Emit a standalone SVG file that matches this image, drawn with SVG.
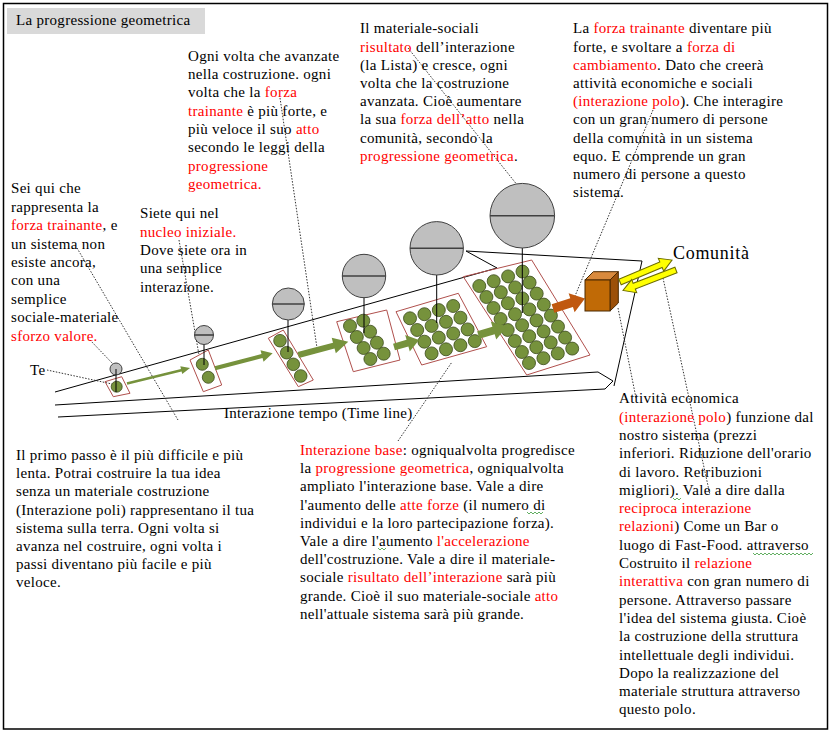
<svg xmlns="http://www.w3.org/2000/svg" width="832" height="734" viewBox="0 0 832 734">
<style>
.t{font-family:"Liberation Serif","Times New Roman",serif;font-size:15px;letter-spacing:0.3px;fill:#000}
.r{fill:#ff0000}
.ld{fill:none;stroke:#333;stroke-width:1;stroke-dasharray:1.5,1.5}
.ln{fill:none;stroke:#000;stroke-width:1}
.cir{fill:#bfbfbf;stroke:#404040;stroke-width:1}
.bar{stroke:#404040;stroke-width:1.6}
.stem{stroke:#000;stroke-width:1}
.box{fill:none;stroke:#b0504d;stroke-width:1}
.dot{fill:#76923c;stroke:#3b4a1c;stroke-width:0.8}
.ga{fill:#76923c}
.ya{fill:#ffff00;stroke:#6b6b00;stroke-width:1}
.sq{fill:none;stroke:#3a9a3a;stroke-width:0.8}
</style>
<rect x="3.5" y="3.5" width="824" height="725.5" fill="#fff" stroke="#000" stroke-width="1.5"/>
<g id="title">
<rect x="7" y="8" width="198" height="26" fill="#d9d9d9"/>
<text class="t" x="16" y="25">La progressione geometrica</text>
</g>

<g id="structure">
<polyline class="ln" points="55,392 497,268 466,251 642,261 614,386"/>
<polyline class="ln" points="55,405 598,372 613,381 605,389 58,417"/>
</g>

<g id="connectors">
<line class="ld" x1="77" y1="248" x2="178" y2="420"/>
<line class="ld" x1="90" y1="340" x2="113" y2="364"/>
<line class="ld" x1="47" y1="370" x2="112" y2="384"/>
<line class="ld" x1="179" y1="240" x2="199" y2="355"/>
<line class="ld" x1="280" y1="98" x2="317" y2="348"/>
<line class="ld" x1="408" y1="48" x2="518" y2="186"/>
<line class="ld" x1="653" y1="110" x2="575" y2="296"/>
<line class="ld" x1="398" y1="441" x2="452" y2="362"/>
<line class="ld" x1="618" y1="308" x2="636" y2="398"/>
<line class="ld" x1="663" y1="278" x2="710" y2="495"/>
</g>

<g id="group1">
<polygon class="box" points="105,381.7 121.7,376.7 130,393.3 113.3,396.7"/>
<circle class="dot" cx="116.7" cy="386.7" r="5.5"/>
<line class="stem" x1="116" y1="363" x2="116" y2="392"/>
<circle class="cir" cx="116" cy="369" r="6"/>
<line class="stem" x1="116" y1="369" x2="116" y2="375"/>
</g>
<g id="group2">
<polygon class="box" points="190,360 208.3,350 221.7,385 203.3,391.7"/>
<circle class="dot" cx="202.3" cy="364.3" r="6"/>
<circle class="dot" cx="208.3" cy="377.3" r="6"/>
<line class="stem" x1="204" y1="335" x2="204" y2="365"/>
<circle class="cir" cx="204" cy="335" r="9.5"/>
<line class="bar" x1="194.5" y1="335" x2="213.5" y2="335"/>
</g>
<g id="group3">
<polygon class="box" points="268.3,338.3 283.3,330 313.3,380 298.3,386.7"/>
<circle class="dot" cx="280" cy="340.7" r="6.3"/>
<circle class="dot" cx="286.7" cy="352.7" r="6.3"/>
<circle class="dot" cx="293.3" cy="364.3" r="6.3"/>
<circle class="dot" cx="300.7" cy="376" r="6.3"/>
<line class="stem" x1="288" y1="318" x2="288" y2="352"/>
<circle class="cir" cx="288.3" cy="304" r="16"/>
<line class="bar" x1="272.3" y1="304" x2="304.3" y2="304" stroke-width="2.2"/>
</g>
<g id="group4">
<polygon class="box" points="336.7,321.7 386.7,310 400,360 353.3,371.7"/>
<circle class="dot" cx="350" cy="326" r="6.5"/>
<circle class="dot" cx="363.3" cy="320.7" r="6.5"/>
<circle class="dot" cx="356.8" cy="337" r="6.5"/>
<circle class="dot" cx="370.1" cy="331.7" r="6.5"/>
<circle class="dot" cx="363.6" cy="348" r="6.5"/>
<circle class="dot" cx="376.9" cy="342.7" r="6.5"/>
<circle class="dot" cx="370.4" cy="359" r="6.5"/>
<circle class="dot" cx="383.7" cy="353.7" r="6.5"/>
<line class="stem" x1="364" y1="297" x2="364" y2="333"/>
<circle class="cir" cx="364" cy="276" r="21.7"/>
<line class="bar" x1="342.3" y1="276" x2="385.7" y2="276" stroke-width="2.2"/>
</g>
<g id="group5">
<polygon class="box" points="396,311.7 458.3,293.3 486.7,346.7 421.7,365"/>
<g transform="translate(410,318.3)">
<circle class="dot" cx="0" cy="0" r="6.5"/><circle class="dot" cx="14.4" cy="-4.1" r="6.5"/><circle class="dot" cx="28.8" cy="-8.2" r="6.5"/><circle class="dot" cx="43.2" cy="-12.3" r="6.5"/>
<circle class="dot" cx="7.2" cy="11.7" r="6.5"/><circle class="dot" cx="21.6" cy="7.6" r="6.5"/><circle class="dot" cx="36" cy="3.5" r="6.5"/><circle class="dot" cx="50.4" cy="-0.6" r="6.5"/>
<circle class="dot" cx="14.4" cy="23.4" r="6.5"/><circle class="dot" cx="28.8" cy="19.3" r="6.5"/><circle class="dot" cx="43.2" cy="15.2" r="6.5"/><circle class="dot" cx="57.6" cy="11.1" r="6.5"/>
<circle class="dot" cx="21.6" cy="35.1" r="6.5"/><circle class="dot" cx="36" cy="31" r="6.5"/><circle class="dot" cx="50.4" cy="26.9" r="6.5"/><circle class="dot" cx="64.8" cy="22.8" r="6.5"/>
</g>
<line class="stem" x1="436.7" y1="275" x2="436.7" y2="323"/>
<circle class="cir" cx="436.7" cy="248.3" r="26.7"/>
<line class="bar" x1="410" y1="248.3" x2="463.4" y2="248.3" stroke="#000"/>
</g>
<g id="group6">
<polygon class="box" points="463.3,276.7 531.7,260 590,355 526.7,375"/>
<g transform="translate(479.3,286)">
<circle class="dot" cx="0" cy="0" r="6.5"/><circle class="dot" cx="14.4" cy="-4.8" r="6.5"/><circle class="dot" cx="28.8" cy="-9.6" r="6.5"/><circle class="dot" cx="43.2" cy="-14.4" r="6.5"/>
<circle class="dot" cx="7.1" cy="11" r="6.5"/><circle class="dot" cx="21.5" cy="6.2" r="6.5"/><circle class="dot" cx="35.9" cy="1.4" r="6.5"/><circle class="dot" cx="50.3" cy="-3.4" r="6.5"/>
<circle class="dot" cx="14.2" cy="22" r="6.5"/><circle class="dot" cx="28.6" cy="17.2" r="6.5"/><circle class="dot" cx="43" cy="12.4" r="6.5"/><circle class="dot" cx="57.4" cy="7.6" r="6.5"/>
<circle class="dot" cx="21.3" cy="33" r="6.5"/><circle class="dot" cx="35.7" cy="28.2" r="6.5"/><circle class="dot" cx="50.1" cy="23.4" r="6.5"/><circle class="dot" cx="64.5" cy="18.6" r="6.5"/>
<circle class="dot" cx="28.4" cy="44" r="6.5"/><circle class="dot" cx="42.8" cy="39.2" r="6.5"/><circle class="dot" cx="57.2" cy="34.4" r="6.5"/><circle class="dot" cx="71.6" cy="29.6" r="6.5"/>
<circle class="dot" cx="35.5" cy="55" r="6.5"/><circle class="dot" cx="49.9" cy="50.2" r="6.5"/><circle class="dot" cx="64.3" cy="45.4" r="6.5"/><circle class="dot" cx="78.7" cy="40.6" r="6.5"/>
<circle class="dot" cx="42.6" cy="66" r="6.5"/><circle class="dot" cx="57" cy="61.2" r="6.5"/><circle class="dot" cx="71.4" cy="56.4" r="6.5"/><circle class="dot" cx="85.8" cy="51.6" r="6.5"/>
<circle class="dot" cx="49.7" cy="77" r="6.5"/><circle class="dot" cx="64.1" cy="72.2" r="6.5"/><circle class="dot" cx="78.5" cy="67.4" r="6.5"/><circle class="dot" cx="92.9" cy="62.6" r="6.5"/>
</g>
<line class="stem" x1="522.3" y1="248" x2="522.3" y2="313"/>
<circle class="cir" cx="522.3" cy="215.7" r="32.3"/>
<line class="bar" x1="490" y1="215.7" x2="554.6" y2="215.7" stroke="#595959" stroke-width="2"/>
</g>

<g id="flow-arrows">
<path class="ga" transform="translate(127,383.5) rotate(-13.8)" d="M0,-1.25 H55.9 V-4 L64.9,0 L55.9,4 V1.25 H0 Z"/>
<path class="ga" transform="translate(215,368.3) rotate(-14.6)" d="M0,-2 H48.6 V-6 L59.6,0 L48.6,6 V2 H0 Z"/>
<path class="ga" transform="translate(298.3,355) rotate(-14.9)" d="M0,-3 H36.7 V-8 L51.7,0 L36.7,8 V3 H0 Z"/>
<path class="ga" transform="translate(394,347) rotate(-15.6)" d="M0,-3.5 H14 V-8.5 L26,0 L14,8.5 V3.5 H0 Z"/>
<path class="ga" transform="translate(478.3,335) rotate(-16.5)" d="M0,-4 H15.9 V-9.5 L29.9,0 L15.9,9.5 V4 H0 Z"/>
<path fill="#c0580f" transform="translate(553,308.5) rotate(-17.4)" d="M0,-4.5 H19.5 V-10 L33.5,0 L19.5,10 V4.5 H0 Z"/>
</g>

<g id="cube">
<polygon points="585,280 593.3,271.7 618.3,271.7 610,280" fill="#d98a3d" stroke="#4a2800" stroke-width="1"/>
<polygon points="610,280 618.3,271.7 618.3,303 610,311" fill="#9c5008" stroke="#4a2800" stroke-width="1"/>
<rect x="585" y="280" width="25" height="31" fill="#c06a06" stroke="#4a2800" stroke-width="1"/>
</g>

<g id="exchange-arrows">
<path class="ya" transform="translate(620,282) rotate(-22.9)" d="M0,-3 H44.5 V-7 L56.5,0 L44.5,7 V3 H0 Z"/>
<path class="ya" transform="translate(676,270) rotate(158.9)" d="M0,-3 H44.8 V-7 L56.8,0 L44.8,7 V3 H0 Z"/>
</g>

<g id="comunita">
<text x="673" y="259" style="font-family:'Liberation Serif','Times New Roman',serif;font-size:18px;letter-spacing:0.7px;fill:#000">Comunità</text>
</g>

<g id="label-te"><text class="t" x="30" y="375">Te</text></g>
<g id="label-time"><text class="t" x="224" y="418">Interazione tempo (Time line)</text></g>

<g id="note-forza">
<text class="t" x="188" y="60.7">Ogni volta che avanzate</text>
<text class="t" x="188" y="79">nella costruzione. ogni</text>
<text class="t" x="188" y="97.3">volta che la <tspan class="r">forza</tspan></text>
<text class="t" x="188" y="115.6"><tspan class="r">trainante</tspan> è più forte, e</text>
<text class="t" x="188" y="133.9">più veloce il suo <tspan class="r">atto</tspan></text>
<text class="t" x="188" y="152.2">secondo le leggi della</text>
<text class="t r" x="188" y="170.5">progressione</text>
<text class="t r" x="188" y="188.8">geometrica.</text>
</g>

<g id="note-risultato">
<text class="t" x="360" y="33.3">Il materiale-sociali</text>
<text class="t" x="360" y="51.5"><tspan class="r">risultato</tspan> dell’interazione</text>
<text class="t" x="360" y="69.7">(la Lista) e cresce, ogni</text>
<text class="t" x="360" y="87.9">volta che la costruzione</text>
<text class="t" x="360" y="106.1">avanzata. Cioè aumentare</text>
<text class="t" x="360" y="124.3">la sua <tspan class="r">forza dell’atto</tspan> nella</text>
<text class="t" x="360" y="142.5">comunità, secondo la</text>
<text class="t" x="360" y="160.7"><tspan class="r">progressione geometrica</tspan>.</text>
</g>

<g id="note-cambiamento">
<text class="t" x="573" y="33.3">La <tspan class="r">forza trainante</tspan> diventare più</text>
<text class="t" x="573" y="51.5">forte, e svoltare a <tspan class="r">forza di</tspan></text>
<text class="t" x="573" y="69.7"><tspan class="r">cambiamento</tspan>. Dato che creerà</text>
<text class="t" x="573" y="87.9">attività economiche e sociali</text>
<text class="t" x="573" y="106.1"><tspan class="r">(interazione polo</tspan>).  Che interagire</text>
<text class="t" x="573" y="124.3">con un gran numero di persone</text>
<text class="t" x="573" y="142.5">della comunità in un sistema</text>
<text class="t" x="573" y="160.7">equo. E comprende un gran</text>
<text class="t" x="573" y="178.9">numero di persone a questo</text>
<text class="t" x="573" y="197.1">sistema.</text>
</g>

<g id="note-sei-qui">
<text class="t" x="11" y="193.3">Sei qui che</text>
<text class="t" x="11" y="211.7">rappresenta la</text>
<text class="t" x="11" y="230.1"><tspan class="r">forza trainante</tspan>, e</text>
<text class="t" x="11" y="248.5">un sistema non</text>
<text class="t" x="11" y="266.9">esiste ancora,</text>
<text class="t" x="11" y="285.3">con una</text>
<text class="t" x="11" y="303.7">semplice</text>
<text class="t" x="11" y="322.1">sociale-materiale</text>
<text class="t r" x="11" y="340.5">sforzo valore.</text>
</g>

<g id="note-nucleo">
<text class="t" x="140" y="218.3">Siete qui nel</text>
<text class="t r" x="140" y="236.6">nucleo iniziale.</text>
<text class="t" x="140" y="254.9">Dove siete ora in</text>
<text class="t" x="140" y="273.2">una semplice</text>
<text class="t" x="140" y="291.5">interazione.</text>
</g>

<g id="note-primo-passo">
<text class="t" x="16" y="460">Il primo passo è il più difficile e più</text>
<text class="t" x="16" y="478.2">lenta. Potrai costruire la tua idea</text>
<text class="t" x="16" y="496.4">senza un materiale  costruzione</text>
<text class="t" x="16" y="514.6">(Interazione poli) rappresentano il tua</text>
<text class="t" x="16" y="532.8">sistema sulla terra. Ogni volta si</text>
<text class="t" x="16" y="551">avanza nel costruire, ogni volta i</text>
<text class="t" x="16" y="569.2">passi diventano più facile e più</text>
<text class="t" x="16" y="587.4">veloce.</text>
</g>

<g id="note-interazione-base">
<text class="t" x="300" y="455"><tspan class="r">Interazione base</tspan>: ogniqualvolta progredisce</text>
<text class="t" x="300" y="473.2">la <tspan class="r">progressione geometrica</tspan>, ogniqualvolta</text>
<text class="t" x="300" y="491.4">ampliato l'interazione base.  Vale a dire</text>
<text class="t" x="300" y="509.6">l'aumento delle <tspan class="r">atte forze</tspan> (il numero di</text>
<text class="t" x="300" y="527.8">individui e la loro partecipazione forza).</text>
<text class="t" x="300" y="546">Vale a dire l'aumento <tspan class="r">l'accelerazione</tspan></text>
<text class="t" x="300" y="564.2">dell'costruzione. Vale a dire il materiale-</text>
<text class="t" x="300" y="582.4">sociale <tspan class="r">risultato dell’interazione</tspan> sarà più</text>
<text class="t" x="300" y="600.6">grande. Cioè il suo materiale-sociale  <tspan class="r">atto</tspan></text>
<text class="t" x="300" y="618.8">nell'attuale sistema sarà più grande.</text>
<polyline class="sq" points="527,512 529,514 531,512 533,514 535,512 537,514 539,512 541,514 543,512"/>
<polyline class="sq" points="378,548 380,550 382,548 384,550 386,548"/>
</g>

<g id="note-attivita">
<text class="t" x="619" y="403.3">Attività economica</text>
<text class="t" x="619" y="421.6"><tspan class="r">(interazione polo</tspan>) funzione dal</text>
<text class="t" x="619" y="439.9">nostro sistema (prezzi</text>
<text class="t" x="619" y="458.2">inferiori. Riduzione dell'orario</text>
<text class="t" x="619" y="476.5">di lavoro. Retribuzioni</text>
<text class="t" x="619" y="494.8">migliori).  Vale a dire dalla</text>
<text class="t r" x="619" y="513.1">reciproca interazione</text>
<text class="t" x="619" y="531.4"><tspan class="r">relazioni</tspan>) Come un Bar o</text>
<text class="t" x="619" y="549.7">luogo di Fast-Food.  attraverso</text>
<text class="t" x="619" y="568">Costruito il <tspan class="r">relazione</tspan></text>
<text class="t" x="619" y="586.3"><tspan class="r">interattiva</tspan> con gran numero di</text>
<text class="t" x="619" y="604.6">persone. Attraverso passare</text>
<text class="t" x="619" y="622.9">l'idea del sistema giusta.  Cioè</text>
<text class="t" x="619" y="641.2">la costruzione della struttura</text>
<text class="t" x="619" y="659.5">intellettuale degli individui.</text>
<text class="t" x="619" y="677.8">Dopo la realizzazione  del</text>
<text class="t" x="619" y="696.1">materiale struttura attraverso</text>
<text class="t" x="619" y="714.4">questo polo.</text>
<polyline class="sq" points="673,498 675,500 677,498 679,500 681,498"/>
<polyline class="sq" points="753,553 755,555 757,553 759,555 761,553 763,555 765,553 767,555 769,553 771,555 773,553 775,555 777,553 779,555 781,553 783,555 785,553 787,555 789,553 791,555 793,553 795,555 797,553 799,555 801,553 803,555 805,553 807,555 809,553 811,555 813,553"/>
</g>
</svg>
